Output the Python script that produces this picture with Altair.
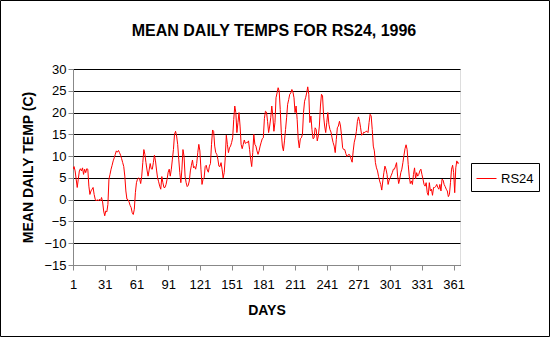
import altair as alt
import pandas as pd

temps = [
    7.0, 7.6, 6.6, 4.7, 2.8, 4.7, 6.6, 7.1, 6.6, 7.3,
    5.8, 7.0, 6.2, 7.1, 7.0, 3.1, 1.2, 2.0, 2.4, 2.8,
    1.2, 0.1, -0.3, 0.0, -0.3, 0.1, -0.3, 0.5, -0.5, -2.6,
    -3.7, -2.6, -2.8, -1.1, 4.7, 5.8, 7.0, 7.9, 8.9, 9.6,
    10.4, 11.2, 10.9, 11.3, 10.8, 10.2, 9.4, 8.5, 7.6, 5.4,
    2.0, 0.1, 0.0, -0.5, -1.3, -1.8, -3.0, -3.4, -2.2, 1.6,
    3.9, 4.7, 5.0, 4.8, 3.7, 5.4, 8.5, 11.5, 10.4, 8.5,
    6.8, 5.4, 6.8, 8.3, 7.1, 7.0, 8.5, 10.2, 8.9, 6.8,
    5.0, 4.1, 3.1, 2.4, 5.3, 3.9, 2.8, 2.8, 3.5, 4.7,
    6.3, 7.0, 5.4, 7.0, 9.3, 11.5, 15.0, 15.7, 14.6, 12.7,
    9.3, 6.2, 3.9, 7.0, 11.5, 10.0, 5.4, 3.9, 3.0, 3.3,
    4.3, 6.6, 7.9, 9.1, 7.3, 7.6, 7.0, 8.3, 10.8, 12.7,
    11.2, 7.0, 3.5, 4.7, 5.0, 7.6, 7.9, 6.8, 6.3, 7.7,
    8.3, 12.7, 16.0, 15.7, 12.3, 10.8, 10.4, 9.3, 7.7, 7.6,
    8.5, 7.0, 5.0, 6.2, 9.6, 14.8, 12.7, 10.8, 11.9, 12.3,
    13.1, 14.2, 18.4, 21.5, 20.0, 15.4, 17.7, 20.0, 16.9, 12.7,
    11.7, 12.7, 13.7, 12.9, 13.1, 13.1, 13.5, 11.5, 9.3, 7.6,
    10.8, 15.0, 12.7, 12.3, 11.2, 10.4, 11.2, 12.3, 13.2, 14.0,
    14.2, 18.6, 20.3, 20.1, 18.0, 15.4, 16.9, 18.8, 21.5, 19.2,
    15.7, 17.7, 23.4, 24.5, 25.7, 24.9, 20.7, 15.4, 12.3, 11.2,
    13.5, 16.1, 18.8, 21.9, 23.0, 24.2, 24.5, 25.3, 24.7, 23.4,
    20.0, 21.5, 18.4, 13.8, 11.9, 14.0, 14.2, 15.0, 20.0, 22.6,
    23.4, 24.5, 25.9, 24.2, 17.7, 19.2, 16.1, 14.0, 14.2, 16.5,
    16.1, 13.5, 14.6, 16.9, 21.5, 24.2, 23.8, 19.2, 16.9, 15.4,
    17.7, 20.0, 17.3, 16.1, 15.5, 14.2, 13.1, 12.3, 10.8, 13.8,
    16.5, 16.9, 18.0, 16.9, 14.6, 11.9, 11.5, 11.5, 10.6, 9.9,
    10.2, 10.4, 10.2, 9.3, 8.6, 11.2, 13.2, 14.2, 15.7, 18.0,
    19.0, 18.0, 16.5, 14.8, 15.0, 15.5, 15.4, 15.7, 15.7, 15.4,
    17.7, 19.6, 19.2, 16.1, 12.3, 11.2, 8.5, 7.3, 6.6, 5.3,
    4.3, 3.5, 2.2, 4.3, 6.2, 7.7, 7.0, 5.8, 3.5, 4.5,
    5.0, 5.6, 6.2, 7.0, 7.0, 7.7, 8.5, 5.4, 3.7, 4.7,
    6.2, 7.0, 8.5, 10.2, 11.7, 12.6, 11.5, 8.1, 5.4, 3.7,
    4.3, 3.5, 5.8, 7.3, 4.8, 6.2, 5.4, 5.8, 6.6, 7.0,
    5.8, 4.7, 3.5, 3.1, 3.9, 1.6, 1.0, 3.9, 2.0, 2.4,
    1.0, 2.8, 2.8, 3.0, 3.5, 2.8, 2.4, 3.5, 2.0, 4.7,
    4.5, 3.5, 3.0, 2.4, 2.0, 0.7, 1.2, 3.9, 7.0, 7.9,
    6.2, 1.6, 7.3, 8.9, 8.3, 8.5,
]
days = list(range(1, len(temps) + 1))
series = ["RS24"] * len(temps)
x_ticks = [1, 31, 61, 91, 121, 151, 181, 211, 241, 271, 301, 331, 361]
y_ticks = [-15, -10, -5, 0, 5, 10, 15, 20, 25, 30]
title_text = ["MEAN DAILY TEMPS FOR RS24, 1996"]

df = pd.DataFrame({"day": days, "temp": temps, "series": series})

FONT = "Liberation Sans"
W, H = 387, 196
PL, PT = 73, 69

line = alt.Chart(df).mark_line(strokeWidth=1, clip=True).encode(
    x=alt.X(
        "day:Q",
        scale=alt.Scale(domain=[1, 367], nice=False, zero=False),
        axis=alt.Axis(
            values=x_ticks, title="DAYS", grid=False, tickSize=5,
            labelPadding=8, titlePadding=12, labelFlush=False,
            labelFont=FONT, labelFontSize=13, titleFont=FONT,
            titleFontSize=14, titleFontWeight="bold",
        ),
    ),
    y=alt.Y(
        "temp:Q",
        scale=alt.Scale(domain=[-15, 30], nice=False, zero=False),
        axis=alt.Axis(
            values=y_ticks, title="MEAN DAILY TEMP (C)", grid=True,
            gridColor="black", gridOpacity=1, gridWidth=1,
            tickSize=5, labelPadding=2, titlePadding=8,
            labelFont=FONT, labelFontSize=13, titleFont=FONT,
            titleFontSize=14, titleFontWeight="bold",
        ),
    ),
    color=alt.Color(
        "series:N",
        scale=alt.Scale(domain=["RS24"], range=["red"]),
        legend=alt.Legend(
            title=None, orient="none", legendX=398, legendY=94,
            symbolType="stroke", symbolSize=400, symbolStrokeWidth=1,
            strokeColor="black", padding=5, labelFontSize=13,
            labelFont=FONT, labelColor="black",
        ),
    ),
)

frame_df = pd.DataFrame({"k": [0]})
frame = alt.Chart(frame_df).mark_rect(
    fillOpacity=0, stroke="black", strokeWidth=1
).encode(
    x=alt.value(-PL + 0.5), x2=alt.value(549.5 - PL),
    y=alt.value(-PT + 0.5), y2=alt.value(336.5 - PT),
)

title_df = pd.DataFrame({"t": title_text})
title = alt.Chart(title_df).mark_text(
    font=FONT, fontSize=16, fontWeight="bold", color="black",
    align="center", baseline="middle",
).encode(
    text="t:N",
    x=alt.value(274 - PL), y=alt.value(31 - PT),
)

chart = alt.layer(line, frame, title).properties(
    width=W, height=H,
    autosize=alt.AutoSizeParams(type="none"),
    padding={"left": PL, "top": PT, "right": 552 - PL - W, "bottom": 338 - PT - H},
).configure_view(
    stroke="black", strokeWidth=1
).configure_axis(
    domainColor="black", tickColor="black", labelColor="black", titleColor="black",
).configure(background="white")

chart.save("out.html", embed_options={"renderer": "svg", "actions": False})
